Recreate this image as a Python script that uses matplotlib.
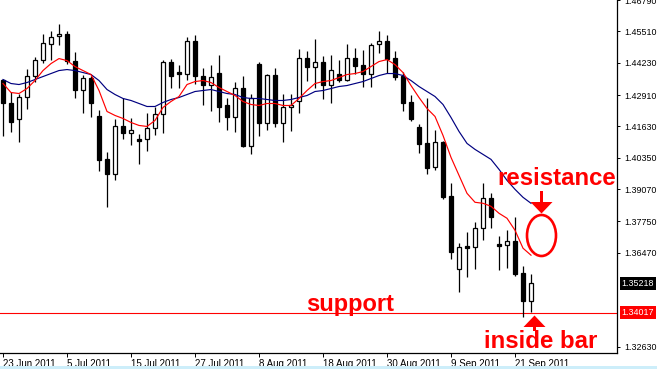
import matplotlib
matplotlib.use("Agg")
import matplotlib.pyplot as plt
from matplotlib.patches import Rectangle, Ellipse, Polygon
from matplotlib.transforms import Affine2D, offset_copy
import numpy as np

plt.rcParams['font.family'] = ['Liberation Sans', 'DejaVu Sans']

# ---------------- data (EUR/USD daily) ----------------
date_labels = ['23 Jun 2011', '5 Jul 2011', '15 Jul 2011', '27 Jul 2011', '8 Aug 2011',
               '18 Aug 2011', '30 Aug 2011', '9 Sep 2011', '21 Sep 2011']

opens = [1.43542, 1.42564, 1.41912, 1.42849, 1.43705, 1.44357, 1.45009, 1.45335, 1.45417, 1.44316,
         1.43134, 1.43624, 1.42034, 1.40281, 1.39670, 1.41626, 1.41341, 1.41096, 1.41096, 1.41545,
         1.42115, 1.44276, 1.43868, 1.43787, 1.45132, 1.43705, 1.43338, 1.43827, 1.42482, 1.41993,
         1.43216, 1.40811, 1.44194, 1.41749, 1.43746, 1.41749, 1.42401, 1.42645, 1.44439, 1.44072,
         1.44276, 1.43338, 1.43787, 1.43542, 1.44439, 1.44153, 1.43787, 1.45009, 1.45132, 1.44439,
         1.43705, 1.42605, 1.41586, 1.40933, 1.39955, 1.40974, 1.38773, 1.35798, 1.36735, 1.36694,
         1.37469, 1.38692, 1.36817, 1.36776, 1.36939, 1.35635, 1.34493]

highs = [1.43583, 1.43053, 1.42971, 1.43990, 1.44479, 1.45417, 1.45539, 1.45825, 1.45539, 1.44683,
         1.43746, 1.43705, 1.42278, 1.40566, 1.41912, 1.42808, 1.41952, 1.41300, 1.42156, 1.42401,
         1.44357, 1.44398, 1.44153, 1.45295, 1.45376, 1.44031, 1.44153, 1.44561, 1.42808, 1.43460,
         1.43705, 1.42971, 1.44276, 1.43787, 1.44031, 1.42931, 1.42931, 1.44806, 1.44724, 1.45213,
         1.44520, 1.44561, 1.44357, 1.45009, 1.44846, 1.44765, 1.45050, 1.45539, 1.45376, 1.44724,
         1.43868, 1.42890, 1.41708, 1.42808, 1.41463, 1.41015, 1.39303, 1.36857, 1.37306, 1.37713,
         1.39303, 1.38895, 1.37143, 1.37387, 1.37917, 1.35920, 1.35594]

lows = [1.41219, 1.41382, 1.40974, 1.42319, 1.43460, 1.44235, 1.44357, 1.44969, 1.44194, 1.42808,
        1.42156, 1.41993, 1.39792, 1.38325, 1.39425, 1.41096, 1.40852, 1.40077, 1.40607, 1.41259,
        1.41341, 1.43216, 1.43216, 1.43542, 1.43379, 1.42482, 1.42238, 1.41789, 1.41463, 1.41382,
        1.40770, 1.40485, 1.41219, 1.41463, 1.41586, 1.40974, 1.41422, 1.42156, 1.43501, 1.43216,
        1.42727, 1.42564, 1.43460, 1.43501, 1.43787, 1.43257, 1.43257, 1.44643, 1.43827, 1.43542,
        1.42238, 1.41830, 1.40526, 1.39670, 1.39833, 1.38651, 1.36205, 1.34860, 1.35472, 1.35798,
        1.36980, 1.37469, 1.35757, 1.35838, 1.35512, 1.33841, 1.34045]

closes = [1.42564, 1.41789, 1.42849, 1.43705, 1.44357, 1.45050, 1.45295, 1.45417, 1.44316, 1.43134,
          1.43624, 1.42564, 1.40240, 1.39670, 1.41626, 1.41341, 1.41463, 1.41015, 1.41545, 1.42115,
          1.44276, 1.43705, 1.43787, 1.45132, 1.43705, 1.43338, 1.43664, 1.42401, 1.41993, 1.43216,
          1.40811, 1.42808, 1.41749, 1.43746, 1.41749, 1.42401, 1.42482, 1.44439, 1.44072, 1.44276,
          1.43338, 1.43950, 1.43542, 1.44439, 1.44113, 1.43787, 1.44969, 1.45132, 1.44398, 1.43664,
          1.42564, 1.41912, 1.40893, 1.39914, 1.40974, 1.38732, 1.36491, 1.36694, 1.36654, 1.37469,
          1.38692, 1.37917, 1.36735, 1.36939, 1.35594, 1.34493, 1.35218]

ma_fast = [1.43379, 1.43012, 1.42971, 1.43175, 1.43501, 1.43909, 1.44194, 1.44398, 1.44316, 1.44072,
           1.43909, 1.43746, 1.43094, 1.42238, 1.42075, 1.41952, 1.41789, 1.41667, 1.41626, 1.41871,
           1.42401, 1.42645, 1.42849, 1.43338, 1.43460, 1.43501, 1.43420, 1.43216, 1.43053, 1.42890,
           1.42645, 1.42523, 1.42482, 1.42564, 1.42564, 1.42482, 1.42482, 1.42768, 1.43094, 1.43379,
           1.43460, 1.43501, 1.43624, 1.43746, 1.43787, 1.43868, 1.44072, 1.44276, 1.44357, 1.44153,
           1.43827, 1.43297, 1.42808, 1.42360, 1.42034, 1.41259, 1.40363, 1.39629, 1.38895, 1.38529,
           1.38488, 1.38365, 1.38080, 1.37876, 1.37387, 1.36654, 1.36368]

ma_slow = [1.43542, 1.43379, 1.43338, 1.43420, 1.43542, 1.43664, 1.43787, 1.43909, 1.43950, 1.43909,
           1.43827, 1.43746, 1.43501, 1.43134, 1.42931, 1.42768, 1.42686, 1.42564, 1.42441, 1.42441,
           1.42605, 1.42727, 1.42808, 1.42931, 1.43053, 1.43094, 1.43134, 1.43053, 1.42971, 1.42931,
           1.42808, 1.42768, 1.42768, 1.42727, 1.42686, 1.42686, 1.42727, 1.42808, 1.42890, 1.43053,
           1.43094, 1.43175, 1.43257, 1.43297, 1.43379, 1.43460, 1.43583, 1.43705, 1.43787, 1.43787,
           1.43705, 1.43501, 1.43257, 1.43053, 1.42849, 1.42523, 1.41993, 1.41422, 1.40933, 1.40689,
           1.40485, 1.40281, 1.39874, 1.39425, 1.39058, 1.38732, 1.38488]

price_ticks = [1.32630, 1.36470, 1.37750, 1.39070, 1.40350, 1.41630, 1.42910, 1.44230, 1.45510, 1.46790]
support_level = 1.34017
bid_price = 1.35218

# ---------------- figure ----------------
W, H = 657, 369
fig = plt.figure(figsize=(W / 100, H / 100), dpi=100)
fig.patch.set_facecolor('white')
PX = Affine2D().scale(1, -1).translate(0, H)  # image pixel coords (y down) -> display

ax = fig.add_axes([0, 16 / H, 617 / W, 353 / H])
ax.set_facecolor('white')

n = len(opens)
x = np.arange(n)
o = np.array(opens); c = np.array(closes); hi = np.array(highs); lo = np.array(lows)
up = c >= o

# wicks
ax.vlines(x, lo, hi, color='black', lw=0.9, zorder=2)
# bodies
bw = 0.6
ax.bar(x[up], (c - o)[up], bottom=o[up], width=bw, facecolor='white', edgecolor='black',
       lw=0.9, zorder=3)
ax.bar(x[~up], (o - c)[~up], bottom=c[~up], width=bw, facecolor='black', edgecolor='black',
       lw=0.9, zorder=3)

# moving averages
ax.plot(x, ma_slow, color='#000080', lw=0.85, zorder=4)
ax.plot(x, ma_fast, color='#ff0000', lw=0.85, zorder=4)

# support line
ax.axhline(support_level, color='#ff0000', lw=0.8, zorder=1)

ax.set_xlim(-0.375, 76.75)
ax.set_ylim(1.32374, 1.46762)

for s in ['left', 'top']:
    ax.spines[s].set_visible(False)
for s in ['right', 'bottom']:
    ax.spines[s].set_color('black')
    ax.spines[s].set_linewidth(0.9)

ax.yaxis.tick_right()
ax.set_yticks(price_ticks)
ax.set_yticklabels([f'{v:.5f}' for v in price_ticks])
ax.tick_params(axis='y', direction='out', length=2.5, width=0.7, pad=2.5, labelsize=6.4,
               colors='black')

ax.set_xticks(np.arange(0, 8 * len(date_labels), 8))
ax.set_xticklabels(date_labels)
ax.tick_params(axis='x', direction='out', length=3, width=0.7, pad=1.5, labelsize=7,
               colors='black')
for lab in ax.get_xticklabels():
    lab.set_ha('left')

# price labels on the axis
tr = offset_copy(ax.get_yaxis_transform(), fig=fig, x=4.5, y=0, units='dots')
ax.text(1.0, bid_price, f'{bid_price:.5f}', transform=tr, ha='left', va='center',
        fontsize=6.4, color='white', clip_on=False, zorder=10,
        bbox=dict(boxstyle='square,pad=0.2', fc='black', ec='none'))
ax.text(1.0, support_level, f'{support_level:.5f}', transform=tr, ha='left', va='center',
        fontsize=6.4, color='white', clip_on=False, zorder=10,
        bbox=dict(boxstyle='square,pad=0.2', fc='#ff0000', ec='none'))

# ---------------- annotations (pixel positions) ----------------
red = '#ff0000'
fig.text(497, 185, 'resistance', transform=PX, color=red, fontsize=17.3, fontweight='bold',
         ha='left', va='baseline')
fig.text(306, 311, 'support', transform=PX, color=red, fontsize=17, fontweight='bold',
         ha='left', va='baseline')
fig.text(484, 348, 'inside bar', transform=PX, color=red, fontsize=17.3, fontweight='bold',
         ha='left', va='baseline')

# ellipse round the resistance zone
fig.patches.append(Ellipse((541.5, 235.5), 29, 41, transform=PX, fill=False, ec=red, lw=1.9))
# down arrow
fig.patches.append(Rectangle((540, 191), 3, 12, transform=PX, fc=red, ec='none'))
fig.patches.append(Polygon([(530.5, 202), (552.5, 202), (541.5, 213.5)], closed=True,
                           transform=PX, fc=red, ec='none'))
# up arrow
fig.patches.append(Polygon([(523.5, 327), (545.5, 327), (534.5, 315.5)], closed=True,
                           transform=PX, fc=red, ec='none'))
fig.patches.append(Rectangle((533, 326), 3, 5, transform=PX, fc=red, ec='none'))

# light blue strip at the bottom
fig.patches.append(Rectangle((0, 366), W, 3, transform=PX, fc='#cdeefa', ec='none'))

fig.savefig('out.png', dpi=100, facecolor='white')
